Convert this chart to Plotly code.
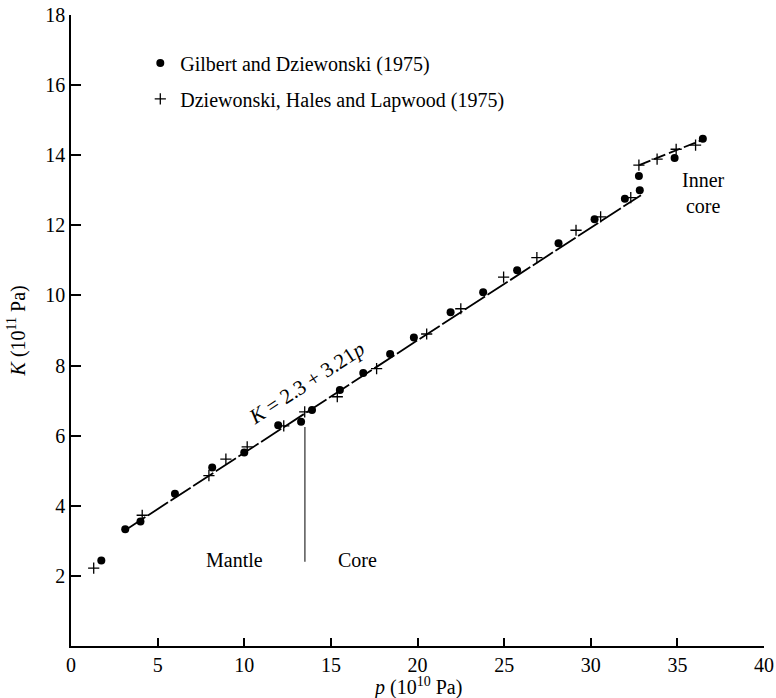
import plotly.graph_objects as go

# Gilbert and Dziewonski (1975): pressure p (10^10 Pa), bulk modulus K (10^11 Pa)
gd_p = [1.75, 3.13, 4.01, 6.0, 8.15, 10.0, 11.96, 13.28, 13.91, 15.52, 16.87,
        18.42, 19.79, 21.91, 23.79, 25.75, 28.14, 30.22, 31.97, 32.83, 32.78,
        34.84, 36.47]
gd_K = [2.44, 3.33, 3.55, 4.34, 5.09, 5.52, 6.30, 6.40, 6.73, 7.30, 7.79,
        8.33, 8.80, 9.52, 10.09, 10.72, 11.49, 12.17, 12.76, 13.00, 13.41,
        13.92, 14.47]

# Dziewonski, Hales and Lapwood (1975)
dhl_p = [1.31, 4.11, 7.96, 8.94, 10.17, 12.28, 13.49, 15.37, 17.64, 20.53,
         22.5, 24.97, 26.89, 29.15, 30.57, 32.31, 32.78, 33.83, 34.93, 36.05]
dhl_K = [2.22, 3.73, 4.86, 5.33, 5.68, 6.28, 6.68, 7.11, 7.91, 8.90,
         9.62, 10.52, 11.08, 11.86, 12.24, 12.79, 13.72, 13.89, 14.17, 14.29]

# Linear fit K = 2.3 + 3.21 p (p in 10^11 Pa) over mantle and outer core
fit_intercept = 2.3
fit_slope = 3.21
fit_p = [3.13, 32.9]
fit_K = [fit_intercept + fit_slope * p / 10 for p in fit_p]

# Inner-core trend
inner_p = [32.8, 36.5]
inner_K = [13.72, 14.45]

# Core-mantle boundary marker
cmb_p = [13.5, 13.5]
cmb_K = [2.4, 6.25]

x_ticks = [0, 5, 10, 15, 20, 25, 30, 35, 40]
y_ticks = [2, 4, 6, 8, 10, 12, 14, 16, 18]

FONT = "Liberation Serif"

fig = go.Figure()

fig.add_trace(go.Scatter(x=fit_p, y=fit_K, mode="lines", showlegend=False,
                         line=dict(color="black", width=1.8, dash="24px,3px")))
fig.add_trace(go.Scatter(x=inner_p, y=inner_K, mode="lines", showlegend=False,
                         line=dict(color="black", width=1.8, dash="12px,4px")))
fig.add_trace(go.Scatter(x=cmb_p, y=cmb_K, mode="lines", showlegend=False,
                         line=dict(color="#555555", width=1.5)))

fig.add_trace(go.Scatter(
    x=gd_p, y=gd_K, mode="markers", name="Gilbert and Dziewonski (1975)",
    legendgroup="gd",
    marker=dict(symbol="circle", size=8, color="black")))
fig.add_trace(go.Scatter(
    x=dhl_p, y=dhl_K, mode="markers", name="Dziewonski, Hales and Lapwood (1975)",
    legendgroup="dhl",
    marker=dict(symbol="cross-thin", size=8, color="black",
                line=dict(color="black", width=1.3))))

axis_common = dict(
    showgrid=False, zeroline=False, showline=True, linecolor="black",
    linewidth=1.5, ticks="inside", tickcolor="black", tickwidth=1.5,
    tickfont=dict(family=FONT, size=20, color="black"), automargin=False,
)

fig.update_xaxes(range=[0, 40], tickvals=x_ticks, ticklen=8, **axis_common)
fig.update_yaxes(range=[0, 18], tickvals=y_ticks, ticklen=10, **axis_common)

annotations = [
    dict(x=0.5, y=-0.064, xref="paper", yref="paper", yanchor="middle",
         text="<i>p</i> (10<sup>10</sup> Pa)", showarrow=False,
         font=dict(family=FONT, size=20)),
    dict(x=-0.078, y=0.5, xref="paper", yref="paper", xanchor="center",
         text="<i>K</i> (10<sup>11</sup> Pa)", textangle=-90, showarrow=False,
         font=dict(family=FONT, size=20)),
    dict(x=13.6, y=7.5, text="<i>K</i> = 2.3 + 3.21<i>p</i>", textangle=-33,
         showarrow=False, font=dict(family=FONT, size=21)),
    dict(x=9.46, y=2.45, text="Mantle", showarrow=False,
         font=dict(family=FONT, size=20)),
    dict(x=16.56, y=2.45, text="Core", showarrow=False,
         font=dict(family=FONT, size=20)),
    dict(x=36.5, y=12.93, text="Inner<br>core", showarrow=False,
         font=dict(family=FONT, size=20)),
]

fig.update_layout(
    width=776, height=698,
    margin=dict(l=71, r=12, t=15, b=52),
    paper_bgcolor="white", plot_bgcolor="white",
    font=dict(family=FONT, size=20, color="black"),
    annotations=annotations,
    legend=dict(x=0.1, y=0.955, xanchor="left", yanchor="top",
                traceorder="grouped", tracegroupgap=7,
                bgcolor="rgba(0,0,0,0)", font=dict(family=FONT, size=20)),
)

fig.write_html("out.html")
